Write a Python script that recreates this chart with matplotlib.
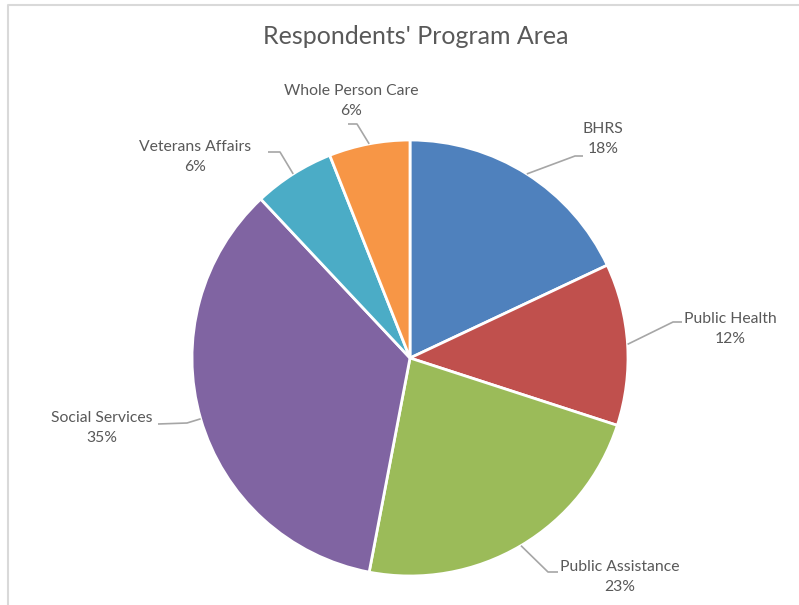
import numpy as np
import matplotlib.pyplot as plt
from matplotlib.lines import Line2D

# program areas and share of respondents (%)
areas = ["BHRS", "Public Health", "Public Assistance", "Social Services",
         "Veterans Affairs", "Whole Person Care"]
shares = [18, 12, 23, 35, 6, 6]
colors = ["#4F81BD", "#C0504D", "#9BBB59", "#8064A2", "#4BACC6", "#F79646"]

W, H = 799, 605
cx, cy, r = 410, 358, 218   # pie centre / radius in pixels (y from top)

# label text centre, leader elbow and leader end (pixels, y from top)
label_xy = [(603, 139), (730, 329), (620, 577), (102, 428), (195, 157), (351, 101)]
elbow_xy = [(575, 156), (673, 322), (548, 572), (187, 423), (280, 152), (357, 124)]
end_xy = [(583, 156), (682, 322), (558, 572), (158, 424), (268, 152), (348, 124)]

plt.rcParams['font.family'] = ['Lato', 'DejaVu Sans']

fig = plt.figure(figsize=(W / 100, H / 100), dpi=100)
ax = fig.add_axes([0, 0, 1, 1])

wedges, _ = ax.pie(shares, colors=colors, startangle=90, counterclock=False,
                   center=(cx, H - cy), radius=r, frame=True,
                   wedgeprops=dict(edgecolor="white", linewidth=2))
ax.set_xlim(0, W)
ax.set_ylim(0, H)
ax.set_aspect("equal")
ax.axis("off")

for w, name, pct, lxy, exy, nxy in zip(wedges, areas, shares, label_xy, elbow_xy, end_xy):
    mid = np.deg2rad((w.theta1 + w.theta2) / 2)
    sx = cx + r * np.cos(mid)
    sy = H - cy + r * np.sin(mid)
    ax.plot([sx, exy[0], nxy[0]], [sy, H - exy[1], H - nxy[1]],
            color="#a6a6a6", lw=1.2, solid_capstyle="butt")
    ax.text(lxy[0], H - lxy[1], f"{name}\n{pct}%", ha="center", va="center",
            fontsize=11.3, color="#595959", linespacing=1.55)

ax.text(416, H - 36, "Respondents' Program Area", ha="center", va="center",
        fontsize=18, color="#595959")

# chart area border
ax.add_line(Line2D([8, 8, W + 5], [-5, H - 5, H - 5], color="#d9d9d9",
                   lw=1.5, clip_on=False))

fig.savefig("out.png", dpi=100)
